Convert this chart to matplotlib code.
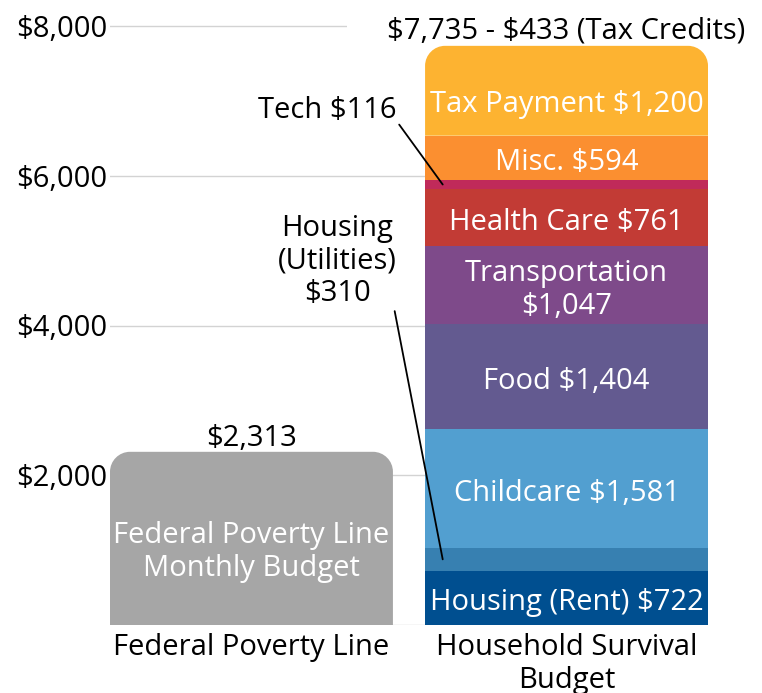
import matplotlib
matplotlib.use("Agg")
import matplotlib.pyplot as plt
from matplotlib.path import Path
from matplotlib.patches import PathPatch

plt.rcParams['font.family'] = ['Open Sans', 'DejaVu Sans']
plt.rcParams['text.usetex'] = False
plt.rcParams['text.parse_math'] = False

# ---- data ----
bar_names = ["Federal Poverty Line", "Household Survival\nBudget"]
fpl_value = 2313
fpl_inner_label = "Federal Poverty Line\nMonthly Budget"
fpl_top_label = "$2,313"

seg_names = ["Housing (Rent)", "Housing (Utilities)", "Childcare", "Food",
             "Transportation", "Health Care", "Tech", "Misc.", "Tax Payment"]
seg_values = [722, 310, 1581, 1404, 1047, 761, 116, 594, 1200]
seg_labels = ["Housing (Rent) $722", None, "Childcare $1,581", "Food $1,404",
              "Transportation\n$1,047", "Health Care $761", None, "Misc. $594",
              "Tax Payment $1,200"]
seg_colors = ["#004f90", "#3780b1", "#529fd0", "#635a90", "#7e4a8a",
              "#c23b35", "#c02a5a", "#fb8f30", "#fdb331"]
hsb_top_label = "$7,735 - $433 (Tax Credits)"
callout_tech = "Tech $116"
callout_util = "Housing\n(Utilities)\n$310"

yticks = [0, 2000, 4000, 6000, 8000]
ytick_labels = ["", "$2,000", "$4,000", "$6,000", "$8,000"]

# ---- layout ----
W, H = 762, 693
fig = plt.figure(figsize=(W / 100, H / 100), dpi=100)
ax_left_px, ax_right_px = 110, 708
ax_bottom_px = 625
px_per_unit = (625 - 26) / 8000.0
ymax = 8200
ax_top_px = ax_bottom_px - ymax * px_per_unit
ax = fig.add_axes([ax_left_px / W, 1 - ax_bottom_px / H,
                   (ax_right_px - ax_left_px) / W, (ax_bottom_px - ax_top_px) / H])
bw = 0.898
xlim = (-bw / 2, 1 + bw / 2)
ax.set_xlim(*xlim)
ax.set_ylim(0, ymax)

r_px = 20
rx = r_px / (ax_right_px - ax_left_px) * (xlim[1] - xlim[0])
ry = r_px / px_per_unit


def rounded_top(x0, x1, y0, y1, color):
    k = 0.5523
    verts = [(x0, y0), (x0, y1 - ry),
             (x0, y1 - ry + k * ry), (x0 + rx - k * rx, y1), (x0 + rx, y1),
             (x1 - rx, y1),
             (x1 - rx + k * rx, y1), (x1, y1 - ry + k * ry), (x1, y1 - ry),
             (x1, y0), (x0, y0)]
    codes = [Path.MOVETO, Path.LINETO,
             Path.CURVE4, Path.CURVE4, Path.CURVE4,
             Path.LINETO,
             Path.CURVE4, Path.CURVE4, Path.CURVE4,
             Path.LINETO, Path.CLOSEPOLY]
    p = PathPatch(Path(verts, codes), facecolor=color, edgecolor='none', zorder=2)
    ax.add_patch(p)


fs = 21
ls = 1.17
dy = -65  # small downward nudge of inner labels
# gray bar
rounded_top(0 - bw / 2, 0 + bw / 2, 0, fpl_value, "#a6a6a6")
ax.text(0, fpl_value * 0.45 + dy, fpl_inner_label, ha='center', va='center',
        color='white', fontsize=fs, linespacing=ls, zorder=3)
ax.text(0, fpl_value + 75, fpl_top_label, ha='center', va='baseline',
        color='black', fontsize=fs, zorder=3)

# stacked bar
bottom = 0
for i, (v, c, lab) in enumerate(zip(seg_values, seg_colors, seg_labels)):
    if i == len(seg_values) - 1:
        rounded_top(1 - bw / 2, 1 + bw / 2, bottom, bottom + v, c)
    else:
        ax.bar(1, v, bottom=bottom, width=bw, color=c, zorder=2, linewidth=0)
    if lab:
        yc = bottom + v / 2
        if i == len(seg_values) - 1:
            yc = bottom + v * 0.40
        ax.text(1, yc + dy, lab, ha='center', va='center', color='white',
                fontsize=fs, linespacing=ls, zorder=3)
    bottom += v
total = bottom
ax.text(1, total + 95, hsb_top_label, ha='center', va='baseline', color='black',
        fontsize=fs, zorder=1.5, clip_on=False,
        bbox=dict(boxstyle='square,pad=1.4', fc='white', ec='none'))

# callouts
tech_mid = sum(seg_values[:6]) + seg_values[6] / 2
ax.annotate(callout_tech, xy=(0.607, tech_mid), xytext=(0.46, 6870),
            ha='right', va='center', fontsize=fs, zorder=3,
            arrowprops=dict(arrowstyle='-', color='black', lw=1.3,
                            shrinkA=0, shrinkB=0, relpos=(1.0, 0.15)))
util_mid = seg_values[0] + seg_values[1] / 2
ax.annotate(callout_util, xy=(0.607, util_mid), xytext=(0.272, 4860),
            ha='center', va='center', fontsize=fs, linespacing=ls, zorder=3,
            arrowprops=dict(arrowstyle='-', color='black', lw=1.3,
                            shrinkA=0, shrinkB=0, relpos=(0.97, 0.06)))

# axes styling
ax.set_yticks(yticks)
ax.set_yticklabels(ytick_labels, fontsize=fs)
ax.set_xticks([0, 1])
ax.set_xticklabels(bar_names, fontsize=fs, linespacing=ls, va='top')
ax.tick_params(axis='both', length=0)
ax.tick_params(axis='y', pad=2)
ax.tick_params(axis='x', pad=6)
ax.set_axisbelow(True)
ax.yaxis.grid(True, color='#d3d3d3', lw=1)
for s in ax.spines.values():
    s.set_visible(False)

fig.savefig("out.png", dpi=100)
